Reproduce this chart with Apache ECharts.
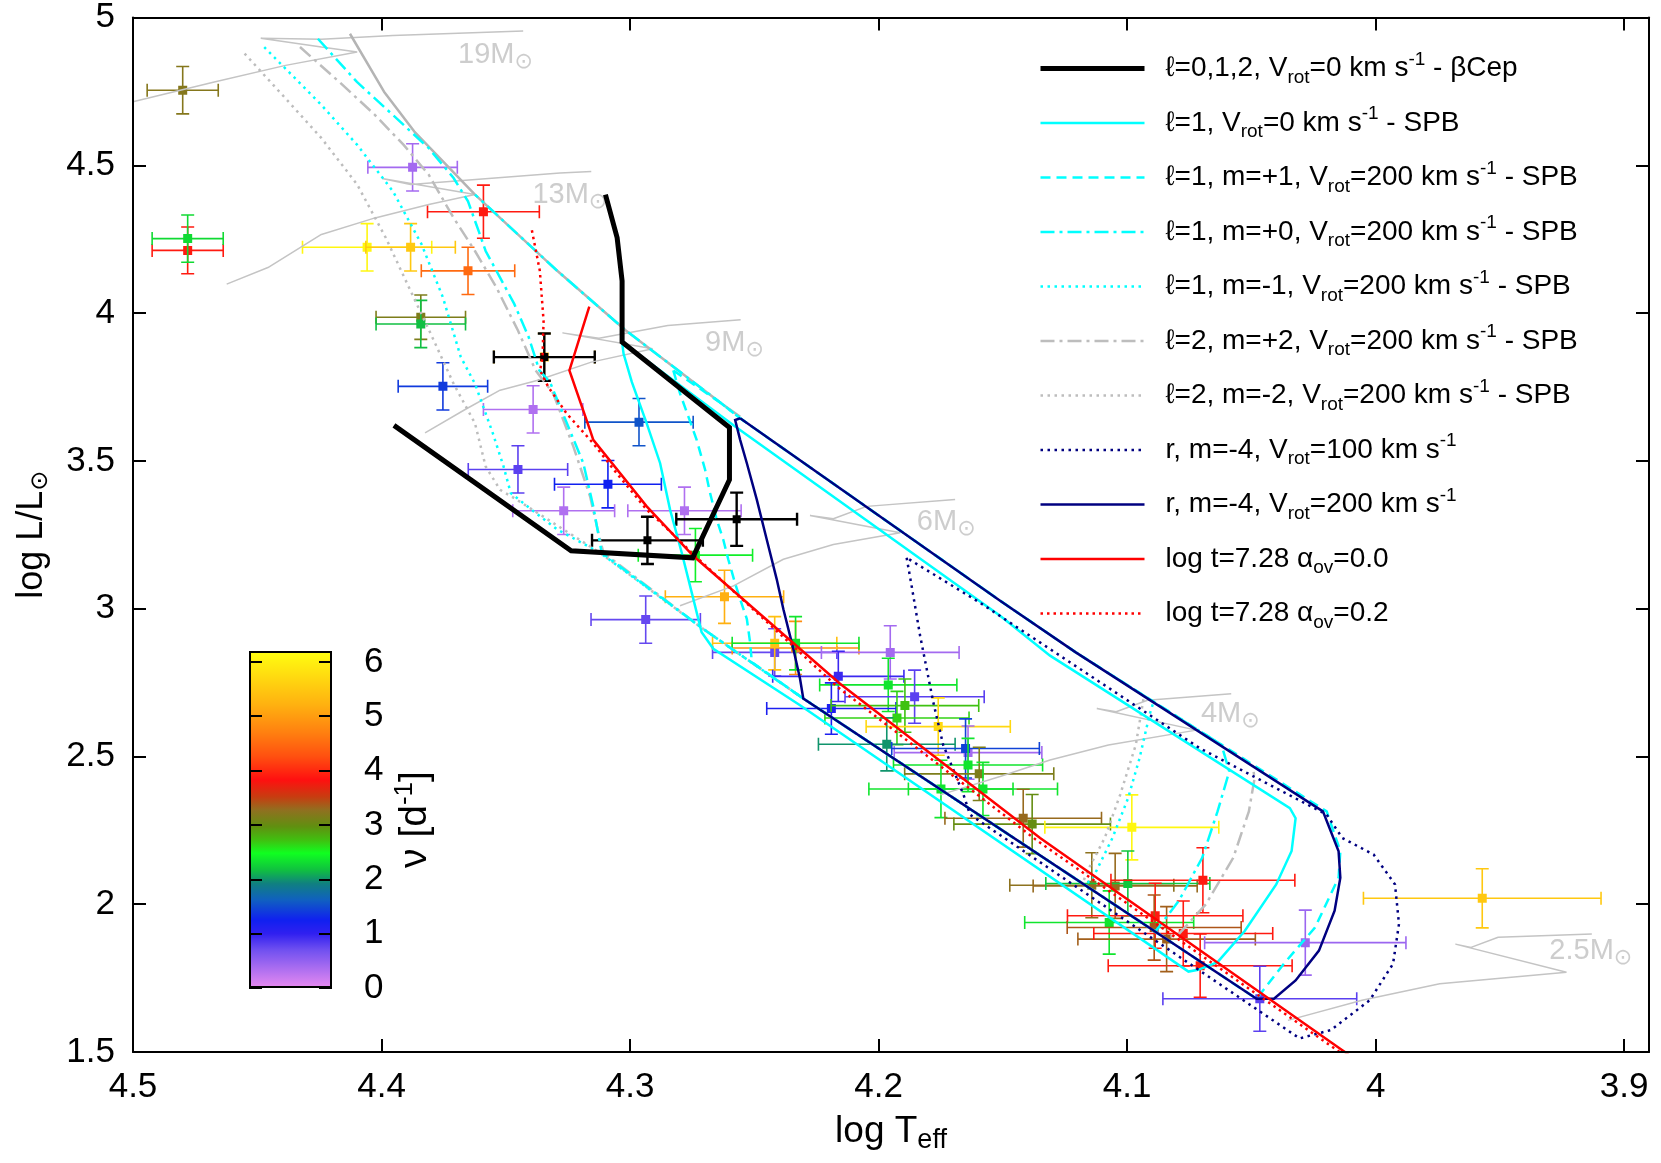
<!DOCTYPE html>
<html><head><meta charset="utf-8">
<script src="https://cdn.jsdelivr.net/npm/echarts@6/dist/echarts.min.js"></script>
<style>html,body{margin:0;padding:0;background:#fff}#c{width:1661px;height:1163px}</style>
</head><body><div id="c"></div><script>
// ---------- tick values ----------
const X_TICKS = [4.5, 4.4, 4.3, 4.2, 4.1, 4.0, 3.9];
const CB_TICKS = [0, 1, 2, 3, 4, 5, 6];
const CB_MAX = 6.2;

// ---------- observed stars: [logTeff, logL, errT, errL, nu] ----------
const STARS = [
  [4.480, 4.754, 0.0143, 0.080, 3.2],
  [4.478, 4.212, 0.0143, 0.079, 3.9],
  [4.478, 4.252, 0.0143, 0.080, 2.3],
  [4.3875, 4.493, 0.018, 0.080, 0.4],
  [4.359, 4.343, 0.0225, 0.090, 3.9],
  [4.4058, 4.2225, 0.026, 0.080, 6.1],
  [4.3883, 4.2225, 0.018, 0.080, 5.5],
  [4.3652, 4.1428, 0.0188, 0.080, 4.5],
  [4.3842, 3.986, 0.018, 0.075, 3.15],
  [4.3842, 3.963, 0.018, 0.080, 2.17],
  [4.3753, 3.752, 0.018, 0.080, 1.4],
  [4.3345, 3.851, 0.0203, 0.080, 5.5],
  [4.339, 3.674, 0.020, 0.080, 0.33],
  [4.3451, 3.471, 0.020, 0.080, 0.8],
  [4.2964, 3.631, 0.0218, 0.080, 1.55],
  [4.3089, 3.421, 0.0215, 0.080, 1.25],
  [4.3267, 3.331, 0.0205, 0.080, 0.33],
  [4.2781, 3.331, 0.0228, 0.080, 0.33],
  [4.2737, 3.181, 0.023, 0.090, 2.4],
  [4.262, 3.040, 0.0238, 0.090, 5.2],
  [4.2937, 2.963, 0.022, 0.080, 0.75],
  [4.2418, 2.852, 0.025, 0.080, 0.75],
  [4.2334, 2.867, 0.0255, 0.090, 4.85],
  [4.2418, 2.883, 0.025, 0.090, 5.4],
  [4.2334, 2.883, 0.0255, 0.090, 2.35],
  [4.1953, 2.852, 0.0277, 0.090, 0.4],
  [4.2162, 2.771, 0.0264, 0.085, 0.95],
  [4.1961, 2.742, 0.0276, 0.090, 2.35],
  [4.1855, 2.702, 0.028, 0.090, 0.8],
  [4.2190, 2.662, 0.026, 0.087, 1.15],
  [4.1894, 2.672, 0.0297, 0.090, 2.72],
  [4.1926, 2.630, 0.029, 0.090, 2.65],
  [4.176, 2.601, 0.029, 0.097, 5.7],
  [4.1967, 2.541, 0.0275, 0.090, 2.0],
  [4.164, 2.513, 0.0297, 0.090, 0.4],
  [4.165, 2.527, 0.0297, 0.100, 1.45],
  [4.164, 2.471, 0.030, 0.090, 2.35],
  [4.1595, 2.441, 0.030, 0.090, 3.15],
  [4.158, 2.390, 0.030, 0.090, 2.35],
  [4.1749, 2.390, 0.029, 0.097, 2.35],
  [4.1418, 2.291, 0.0315, 0.098, 3.3],
  [4.1382, 2.271, 0.0315, 0.100, 3.0],
  [4.0981, 2.260, 0.035, 0.110, 6.1],
  [4.1142, 2.064, 0.033, 0.110, 3.25],
  [4.1048, 2.062, 0.033, 0.110, 3.3],
  [4.0997, 2.070, 0.033, 0.110, 2.2],
  [4.0695, 2.081, 0.037, 0.110, 3.9],
  [4.0706, 1.792, 0.037, 0.107, 3.9],
  [4.0887, 1.961, 0.0353, 0.110, 3.9],
  [4.1072, 1.938, 0.034, 0.107, 2.35],
  [4.0891, 1.921, 0.035, 0.110, 3.4],
  [4.0841, 1.882, 0.0357, 0.110, 3.35],
  [4.0774, 1.901, 0.036, 0.110, 3.9],
  [4.0283, 1.870, 0.0405, 0.110, 0.45],
  [4.0466, 1.680, 0.039, 0.110, 0.8],
  [3.9571, 2.020, 0.0478, 0.100, 5.5]
];
// stars without frequency colour (black)
const STARS_BLACK = [
  [4.3345, 3.851, 0.0203, 0.080],
  [4.2930, 3.231, 0.0223, 0.080],
  [4.2571, 3.3025, 0.0243, 0.090]
];

// ---------- instability strips / isochrones ----------
const BCEP = [[4.3099,4.401],[4.3052,4.255],[4.3032,4.109],[4.3032,3.902],[4.2600,3.613],[4.2600,3.436],[4.2748,3.172],[4.3237,3.196],[4.3950,3.620]];
const SPB_L1_V0 = [[4.3032,3.902],[4.3026,3.862],[4.2993,3.767],[4.2933,3.627],[4.2879,3.492],[4.2839,3.335],[4.2792,3.189],[4.2752,3.055],[4.2712,2.920],[4.2665,2.864],[4.2316,2.673],[4.0753,1.772],[4.0714,1.778],[4.0636,1.804],[4.0526,1.910],[4.0400,2.067],[4.0338,2.180],[4.0322,2.291],[4.0345,2.325],[4.1310,2.841],[4.1511,2.976],[4.2573,3.614],[4.3032,3.902]];
const SPB_L1_MP1 = [[4.2826,3.806],[4.2799,3.728],[4.2765,3.649],[4.2732,3.571],[4.2698,3.470],[4.2678,3.391],[4.2651,3.301],[4.2625,3.234],[4.2605,3.167],[4.2578,3.088],[4.2557,3.032],[4.2530,2.965],[4.2517,2.886],[4.2510,2.819],[4.2303,2.696],[4.0479,1.680],[4.0370,1.798],[4.0244,1.921],[4.0149,2.090],[4.0142,2.179],[4.0197,2.314],[4.1208,2.853],[4.1511,3.027],[4.2557,3.644],[4.2632,3.694],[4.2826,3.806]];
const SPB_L1_M0 = [[4.4256,4.928],[4.4099,4.782],[4.3954,4.670],[4.3810,4.558],[4.3710,4.457],[4.3652,4.378],[4.3609,4.277],[4.3581,4.210],[4.3523,4.120],[4.3466,4.031],[4.3408,3.919],[4.3365,3.806],[4.3322,3.766],[4.3188,3.492],[4.3148,3.346],[4.3114,3.189],[4.2705,2.931],[4.2303,2.696],[4.0887,1.907],[4.0792,2.011],[4.0698,2.157],[4.0636,2.314],[4.0589,2.449],[4.0620,2.539],[4.1208,2.853],[4.1511,3.027],[4.2557,3.644],[4.2632,3.694],[4.3017,3.941],[4.3293,4.143],[4.3624,4.401]];
const SPB_L1_MM1 = [[4.4472,4.900],[4.4242,4.704],[4.4098,4.569],[4.3954,4.412],[4.3839,4.233],[4.3753,4.053],[4.3681,3.851],[4.3624,3.761],[4.3552,3.593],[4.3509,3.481],[4.3480,3.391],[4.3380,3.324],[4.3293,3.268],[4.3121,3.189],[4.2705,2.931],[4.2303,2.696],[4.1169,2.064],[4.1137,2.090],[4.1059,2.224],[4.0996,2.359],[4.0950,2.494],[4.0910,2.640],[4.0894,2.684]];
const SPB_L2_MP2 = [[4.4328,4.900],[4.4170,4.782],[4.4026,4.670],[4.3911,4.569],[4.3810,4.468],[4.3710,4.322],[4.3624,4.210],[4.3538,4.087],[4.3451,3.941],[4.3380,3.806],[4.3309,3.728],[4.3228,3.548],[4.3161,3.380],[4.3121,3.234],[4.3107,3.189],[4.2705,2.931],[4.2303,2.696],[4.0845,1.885],[4.0792,1.899],[4.0683,2.000],[4.0573,2.157],[4.0510,2.314],[4.0487,2.426],[4.0495,2.471]];
const SPB_L2_MM2 = [[4.4551,4.878],[4.4386,4.726],[4.4242,4.592],[4.4098,4.435],[4.3983,4.255],[4.3883,4.075],[4.3796,3.919],[4.3710,3.761],[4.3624,3.627],[4.3581,3.481],[4.3523,3.402],[4.3466,3.374],[4.3121,3.189],[4.2705,2.931],[4.2303,2.696],[4.1180,2.070],[4.1153,2.123],[4.1090,2.224],[4.1028,2.370],[4.0965,2.539],[4.0934,2.695]];
const R_V100 = [[4.1887,3.172],[4.1867,3.077],[4.1833,2.909],[4.1780,2.684],[4.1740,2.539],[4.1658,2.370],[4.1632,2.303],[4.0306,1.546],[4.0181,1.574],[4.0024,1.675],[3.9930,1.798],[3.9906,1.933],[3.9922,2.067],[4.0008,2.168],[4.0134,2.224],[4.0197,2.303],[4.0706,2.527],[4.1592,3.020],[4.1887,3.172]];
const R_V200 = [[4.2557,3.644],[4.1511,3.027],[4.1208,2.853],[4.0212,2.314],[4.0149,2.179],[4.0142,2.090],[4.0165,1.978],[4.0228,1.843],[4.0322,1.742],[4.0409,1.680],[4.0479,1.680],[4.2303,2.696],[4.2316,2.763],[4.2343,2.864],[4.2383,2.998],[4.2410,3.100],[4.2450,3.234],[4.2490,3.369],[4.2530,3.492],[4.2557,3.571],[4.2577,3.638],[4.2557,3.644]];
const ISO_OV00 = [[4.3164,4.022],[4.3244,3.806],[4.3161,3.604],[4.3148,3.571],[4.2933,3.346],[4.2745,3.178],[4.2155,2.746],[4.1350,2.224],[4.0134,1.506],[4.0110,1.492]];
const ISO_OV02 = [[4.3395,4.280],[4.3363,4.143],[4.3348,3.974],[4.3352,3.851],[4.3362,3.806],[4.3329,3.750],[4.3255,3.660],[4.3148,3.559],[4.3054,3.458],[4.2933,3.335],[4.2826,3.251],[4.2752,3.189],[4.2165,2.735],[4.1360,2.214],[4.0140,1.497]];

// ---------- evolutionary tracks + TAMS ----------
const TRACK_19 = [[4.5000,4.715],[4.4673,4.782],[4.4386,4.838],[4.4098,4.883],[4.4242,4.900],[4.4486,4.930],[4.4242,4.926],[4.3954,4.939],[4.3430,4.954]];
const TRACK_13 = [[4.4623,4.098],[4.4457,4.154],[4.4242,4.266],[4.4026,4.322],[4.3810,4.367],[4.3624,4.401],[4.3998,4.455],[4.3883,4.435],[4.3282,4.474],[4.3156,4.479]];
const TRACK_9 = [[4.3825,3.595],[4.3667,3.672],[4.3523,3.739],[4.3371,3.773],[4.3156,3.834],[4.2909,3.879],[4.3272,3.933],[4.3125,3.915],[4.2848,3.958],[4.2555,3.977]];
const TRACK_6 = [[4.2799,3.010],[4.2584,3.077],[4.2383,3.167],[4.2182,3.217],[4.1913,3.257],[4.2276,3.315],[4.2182,3.304],[4.2048,3.346],[4.1692,3.369]];
const TRACK_4 = [[4.1752,2.370],[4.1511,2.432],[4.1310,2.488],[4.1075,2.539],[4.0722,2.589],[4.1122,2.662],[4.1044,2.651],[4.0918,2.690],[4.0581,2.712]];
const TRACK_25 = [[4.0353,1.607],[4.0055,1.675],[3.9742,1.731],[3.9232,1.770],[3.9679,1.865],[3.9616,1.854],[3.9507,1.888],[3.9130,1.899]];
const TAMS = [[4.4127,4.945],[4.3990,4.749],[4.3868,4.614],[4.3624,4.401],[4.3293,4.143],[4.3017,3.941],[4.2632,3.694],[4.2557,3.649]];
const MASS_TEXT = ['19', '13', '9', '6', '4', '2.5'];
const MASS_POS = [[4.3694,4.873],[4.3395,4.398],[4.2700,3.899],[4.1848,3.293],[4.0705,2.644],[3.9303,1.842]];

// ---------- colour palette for nu ----------
const PALETTE_STOPS = [[0,'#e88af0'],[0.33,'#b070f0'],[0.7,'#7050f0'],[1.0,'#3020f0'],[1.25,'#1020f0'],[1.62,'#1060c0'],[1.92,'#108080'],[2.17,'#10c040'],[2.48,'#10ff20'],[2.72,'#40c010'],[2.97,'#609010'],[3.27,'#907020'],[3.52,'#c83c10'],[3.83,'#ff1010'],[4.26,'#ff5010'],[4.7,'#ff8010'],[5.2,'#ffb010'],[5.8,'#ffe010'],[6.2,'#ffff10']];

const FONT = '"Liberation Sans", Arial, Helvetica, sans-serif';
const SYMFONT = '"DejaVu Sans", sans-serif';

function hex2rgb(h) { return [parseInt(h.substr(1,2),16), parseInt(h.substr(3,2),16), parseInt(h.substr(5,2),16)]; }
function paletteAt(v) {
  for (let i = 1; i < PALETTE_STOPS.length; i++) {
    const [v0, c0] = PALETTE_STOPS[i-1], [v1, c1] = PALETTE_STOPS[i];
    if (v <= v1) {
      const t = (v - v0) / (v1 - v0), a = hex2rgb(c0), b = hex2rgb(c1);
      return 'rgb(' + a.map((x, k) => Math.round(x + (b[k]-x)*t)).join(',') + ')';
    }
  }
  return PALETTE_STOPS[PALETTE_STOPS.length-1][1];
}
const VM_COLORS = [];
for (let i = 0; i <= 124; i++) VM_COLORS.push(paletteAt(CB_MAX * i / 124));
const CB_GRADIENT = PALETTE_STOPS.map(s => ({ offset: s[0] / CB_MAX, color: s[1] }));

// ---------- legend ----------
const LEGEND = [
  ['bcep', 'ℓ=0,1,2, V{sub|rot}=0 km s{sup|-1} - βCep', 5],
  ['spb0', 'ℓ=1, V{sub|rot}=0 km s{sup|-1} - SPB', 2.5],
  ['spbp1', 'ℓ=1, m=+1, V{sub|rot}=200 km s{sup|-1} - SPB', 2.5],
  ['spb00', 'ℓ=1, m=+0, V{sub|rot}=200 km s{sup|-1} - SPB', 2.5],
  ['spbm1', 'ℓ=1, m=-1, V{sub|rot}=200 km s{sup|-1} - SPB', 2.5],
  ['spbp2', 'ℓ=2, m=+2, V{sub|rot}=200 km s{sup|-1} - SPB', 2.5],
  ['spbm2', 'ℓ=2, m=-2, V{sub|rot}=200 km s{sup|-1} - SPB', 2.5],
  ['r100', 'r, m=-4, V{sub|rot}=100 km s{sup|-1}', 2.5],
  ['r200', 'r, m=-4, V{sub|rot}=200 km s{sup|-1}', 2.5],
  ['iso0', 'log t=7.28 α{sub|ov}=0.0', 2.5],
  ['iso2', 'log t=7.28 α{sub|ov}=0.2', 2.5]
];
const LEGEND_MAP = {}; LEGEND.forEach(l => LEGEND_MAP[l[0]] = l[1]);

function lineS(name, data, color, width, type) {
  return { name, type: 'line', data, xAxisIndex: 0, yAxisIndex: 0, symbol: 'none', showSymbol: false,
    silent: true, animation: false, clip: true, z: 3,
    lineStyle: { color, width, type, cap: 'butt', join: 'miter' }, itemStyle: { color } };
}
function trackS(data, color, width) {
  return { type: 'line', data, xAxisIndex: 0, yAxisIndex: 0, symbol: 'none', showSymbol: false,
    silent: true, animation: false, clip: true, z: 2, lineStyle: { color, width } };
}
function errRender(lw, sq) {
  return function (params, api) {
    const x = api.value(0), y = api.value(1), ex = api.value(2), ey = api.value(3);
    const c = api.coord([x, y]), a = api.coord([x - ex, y]), b = api.coord([x + ex, y]);
    const t = api.coord([x, y + ey]), d = api.coord([x, y - ey]);
    const col = api.visual('color');
    const st = { stroke: col, lineWidth: lw, fill: null };
    const cap = 6.5;
    const L = (x1, y1, x2, y2) => ({ type: 'line', shape: { x1, y1, x2, y2 }, style: st });
    return { type: 'group', children: [
      L(a[0], a[1], b[0], b[1]), L(a[0], a[1]-cap, a[0], a[1]+cap), L(b[0], b[1]-cap, b[0], b[1]+cap),
      L(t[0], t[1], d[0], d[1]), L(t[0]-cap, t[1], t[0]+cap, t[1]), L(d[0]-cap, d[1], d[0]+cap, d[1]),
      { type: 'rect', shape: { x: c[0]-sq/2, y: c[1]-sq/2, width: sq, height: sq }, style: { fill: col } }
    ]};
  };
}

const axisLineStyle = { color: '#000', width: 2 };
const tickStyle = { color: '#000', width: 2 };
const labelStyle = { fontSize: 35, color: '#000', fontFamily: FONT };

const series = [
  trackS(TRACK_19, '#c4c4c4', 1.5), trackS(TRACK_13, '#c4c4c4', 1.5), trackS(TRACK_9, '#c4c4c4', 1.5),
  trackS(TRACK_6, '#c4c4c4', 1.5), trackS(TRACK_4, '#c4c4c4', 1.5), trackS(TRACK_25, '#c4c4c4', 1.5),
  trackS(TAMS, '#b4b4b4', 2.5),
  { type: 'custom', name: 'stars', data: STARS, xAxisIndex: 0, yAxisIndex: 0, renderItem: errRender(1.6, 9),
    encode: { x: 0, y: 1 }, z: 2, silent: true, animation: false, clip: true },
  { type: 'custom', name: 'starsBlack', data: STARS_BLACK, xAxisIndex: 0, yAxisIndex: 0, renderItem: errRender(2.4, 8),
    encode: { x: 0, y: 1 }, itemStyle: { color: '#000' }, z: 2, silent: true, animation: false, clip: true },
  lineS('spbm2', SPB_L2_MM2, '#bdbdbd', 2.5, [2.5, 4.5]),
  lineS('spbp2', SPB_L2_MP2, '#bdbdbd', 2.5, [14, 5, 3, 5]),
  lineS('spbm1', SPB_L1_MM1, '#00ffff', 2.5, [2.5, 4.5]),
  lineS('spb00', SPB_L1_M0, '#00ffff', 2.5, [14, 5, 3, 5]),
  lineS('spbp1', SPB_L1_MP1, '#00ffff', 2.5, [10, 6]),
  lineS('spb0', SPB_L1_V0, '#00ffff', 2.5, 'solid'),
  lineS('r100', R_V100, '#000080', 2.5, [2.5, 4.5]),
  lineS('r200', R_V200, '#000080', 2.5, 'solid'),
  lineS('iso2', ISO_OV02, '#ff0000', 2.5, [2.5, 4]),
  lineS('iso0', ISO_OV00, '#ff0000', 2.5, 'solid'),
  lineS('bcep', BCEP, '#000000', 5, 'solid'),
  { type: 'scatter', data: MASS_POS, xAxisIndex: 0, yAxisIndex: 0, symbolSize: 1, silent: true, animation: false,
    itemStyle: { color: 'rgba(0,0,0,0)' }, z: 2,
    label: { show: true, position: 'right', distance: 0,
      formatter: p => '{m|' + MASS_TEXT[p.dataIndex] + 'M}{s|⊙}',
      rich: { m: { fontSize: 29, color: '#c0c0c0', fontFamily: FONT, lineHeight: 36 },
              s: { fontSize: 22, color: '#c0c0c0', fontFamily: SYMFONT, verticalAlign: 'bottom', lineHeight: 20 } } } },
  { type: 'bar', data: [CB_MAX], xAxisIndex: 2, yAxisIndex: 2, barWidth: '100%', silent: true, animation: false, z: 1,
    itemStyle: { color: new echarts.graphic.LinearGradient(0, 1, 0, 0, CB_GRADIENT), borderColor: '#000', borderWidth: 2 } }
];

const option = {
  backgroundColor: '#fff',
  animation: false,
  grid: [
    { left: 133, top: 12, width: 1516, height: 1040, show: false },
    { left: 249, top: 651, width: 83, height: 337, show: false }
  ],
  xAxis: [
    { gridIndex: 0, type: 'value', min: 3.89, max: 4.5, inverse: true, position: 'bottom', z: 10,
      axisLine: { show: true, onZero: false, lineStyle: axisLineStyle },
      axisTick: { show: true, inside: true, length: 13, customValues: X_TICKS, lineStyle: tickStyle },
      axisLabel: Object.assign({ customValues: X_TICKS, margin: 18, formatter: v => String(Math.round(v * 10) / 10) }, labelStyle),
      splitLine: { show: false },
      name: 'log T{sub|eff}', nameLocation: 'middle', nameGap: 54,
      nameTextStyle: { fontSize: 37, color: '#000', fontFamily: FONT, lineHeight: 44,
        rich: { sub: { fontSize: 27, fontFamily: FONT, verticalAlign: 'bottom', lineHeight: 22 } } } },
    { gridIndex: 0, type: 'value', min: 3.89, max: 4.5, inverse: true, position: 'top', z: 10,
      axisLine: { show: true, onZero: false, lineStyle: axisLineStyle },
      axisTick: { show: true, inside: true, length: 13, customValues: X_TICKS, lineStyle: tickStyle },
      axisLabel: { show: false }, splitLine: { show: false } },
    { gridIndex: 1, type: 'category', data: ['nu'], show: false }
  ],
  yAxis: [
    { gridIndex: 0, type: 'value', min: 1.5, max: 5, interval: 0.5, position: 'left', z: 10,
      axisLine: { show: true, onZero: false, lineStyle: axisLineStyle },
      axisTick: { show: true, inside: true, length: 13, lineStyle: tickStyle },
      axisLabel: Object.assign({ margin: 18 }, labelStyle),
      splitLine: { show: false },
      name: 'log L/L{sub|⊙}', nameLocation: 'middle', nameRotate: 90, nameGap: 80,
      nameTextStyle: { fontSize: 36, color: '#000', fontFamily: FONT, lineHeight: 42,
        rich: { sub: { fontSize: 24, fontFamily: SYMFONT, verticalAlign: 'bottom', lineHeight: 22 } } } },
    { gridIndex: 0, type: 'value', min: 1.5, max: 5, interval: 0.5, position: 'right', z: 10,
      axisLine: { show: true, onZero: false, lineStyle: axisLineStyle },
      axisTick: { show: true, inside: true, length: 13, lineStyle: tickStyle },
      axisLabel: { show: false }, splitLine: { show: false } },
    { gridIndex: 1, type: 'value', min: 0, max: CB_MAX, position: 'left', z: 10,
      axisLine: { show: false },
      axisTick: { show: true, inside: true, length: 13, customValues: CB_TICKS, lineStyle: tickStyle },
      axisLabel: { show: false }, splitLine: { show: false } },
    { gridIndex: 1, type: 'value', min: 0, max: CB_MAX, position: 'right', z: 10,
      axisLine: { show: false },
      axisTick: { show: true, inside: true, length: 13, customValues: CB_TICKS, lineStyle: tickStyle },
      axisLabel: Object.assign({ customValues: CB_TICKS, margin: 32 }, labelStyle),
      splitLine: { show: false },
      name: 'ν [d{sup|-1}]', nameLocation: 'middle', nameRotate: 90, nameGap: 60,
      nameTextStyle: { fontSize: 39, color: '#000', fontFamily: FONT, lineHeight: 46,
        rich: { sup: { fontSize: 26, fontFamily: FONT, verticalAlign: 'top', lineHeight: 20 } } } }
  ],
  visualMap: [{ type: 'continuous', show: false, min: 0, max: CB_MAX, dimension: 4, seriesIndex: 7,
    inRange: { color: VM_COLORS } }],
  legend: {
    show: true, orient: 'vertical', left: 1033, top: 45, itemWidth: 104, itemHeight: 16, itemGap: 17.5,
    selectedMode: false,
    itemStyle: { opacity: 0 },
    data: LEGEND.map(l => ({ name: l[0], itemStyle: { opacity: 0 }, lineStyle: { width: l[2] } })),
    formatter: n => LEGEND_MAP[n],
    textStyle: { fontSize: 28, color: '#000', fontFamily: FONT, lineHeight: 37, padding: [0, 0, 0, 16],
      rich: { sub: { fontSize: 19, fontFamily: FONT, verticalAlign: 'bottom', lineHeight: 13 },
              sup: { fontSize: 19, fontFamily: FONT, verticalAlign: 'top', lineHeight: 18 } } }
  },
  series
};

const chart = echarts.init(document.getElementById('c'), null, { renderer: 'canvas' });
chart.setOption(option);
</script></body></html>
